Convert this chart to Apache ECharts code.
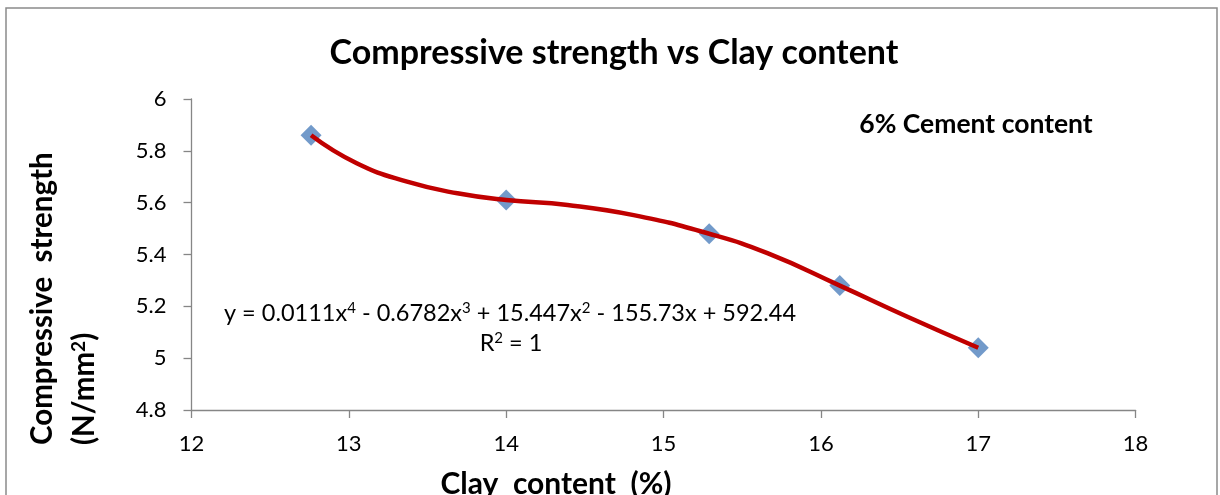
<!DOCTYPE html>
<html>
<head>
<meta charset="utf-8">
<script src="https://cdn.jsdelivr.net/npm/echarts@6/dist/echarts.min.js"></script>
<style>
html,body{margin:0;padding:0;background:#fff;}
#chart{width:1220px;height:495px;}
</style>
</head>
<body>
<div id="chart"></div>
<script>
// Measured data points (clay content %, compressive strength N/mm²)
var clayContent = [12.76, 14.0, 15.29, 16.12, 17.0];
var strength = [5.86, 5.61, 5.48, 5.28, 5.04];
// Trendline points
var trendX = [12.76, 13.05, 13.37, 13.69, 14.0, 14.39, 14.81, 15.29, 15.66, 16.12, 16.55, 17.0];
var trendY = [5.86, 5.752, 5.681, 5.636, 5.61, 5.591, 5.552, 5.48, 5.405, 5.28, 5.16, 5.04];
// Axis ticks
var xTicks = [12, 13, 14, 15, 16, 17, 18];
var yTicks = [4.8, 5, 5.2, 5.4, 5.6, 5.8, 6];

var titleText = 'Compressive strength vs Clay content';
var noteText = '6% Cement content';
var eqText = 'y = 0.0111x{sup|4} - 0.6782x{sup|3} + 15.447x{sup|2} - 155.73x + 592.44';
var r2Text = 'R{sup|2} = 1';
var xName = 'Clay  content  (%)';
var yName1 = 'Compressive  strength';
var yName2 = '(N/mm{sup|2})';

var FONT = "Lato, 'Open Sans', 'DejaVu Sans', sans-serif";

var chart = echarts.init(document.getElementById('chart'), null, {renderer: 'canvas'});
var points = clayContent.map(function (x, i) { return [x, strength[i]]; });
var trend = trendX.map(function (x, i) { return [x, trendY[i]]; });

var axisColor = '#868686';
chart.setOption({
  backgroundColor: '#fff',
  animation: false,
  grid: {left: 191.5, right: 84.4, top: 99, bottom: 85},
  xAxis: {
    type: 'value', min: xTicks[0], max: xTicks[xTicks.length - 1], interval: 1,
    splitLine: {show: false},
    axisLine: {lineStyle: {color: axisColor, width: 1.3}},
    axisTick: {show: true, length: 8, lineStyle: {color: axisColor, width: 1.3}},
    axisLabel: {color: '#000', fontSize: 22, fontFamily: FONT, margin: 23}
  },
  yAxis: {
    type: 'value', min: yTicks[0], max: yTicks[yTicks.length - 1], interval: 0.2,
    splitLine: {show: false},
    axisLine: {show: true, lineStyle: {color: axisColor, width: 1.3}},
    axisTick: {show: true, length: 8, lineStyle: {color: axisColor, width: 1.3}},
    axisLabel: {color: '#000', fontSize: 22, fontFamily: FONT, margin: 25,
      formatter: function (v) { return String(+(+v).toFixed(1)); }}
  },
  series: [
    {
      type: 'scatter', data: points, symbol: 'diamond', symbolSize: [21, 21],
      itemStyle: {color: '#4F81BD'}, z: 2
    },
    {
      type: 'line', data: trend, smooth: 0.5, showSymbol: false, symbol: 'none',
      lineStyle: {color: '#C00000', width: 4.5}, z: 3
    }
  ],
  graphic: [
    {type: 'rect', shape: {x: 6, y: 8, width: 1211, height: 520},
      style: {fill: 'none', stroke: '#8a8a8a', lineWidth: 1.5}, silent: true},
    {type: 'text', x: 614, y: 53, style: {text: titleText, fontSize: 34, fontWeight: 'bold', fontFamily: FONT, fill: '#000', textAlign: 'center', textVerticalAlign: 'middle'}},
    {type: 'text', x: 976, y: 124, style: {text: noteText, fontSize: 26.5, fontWeight: 'bold', fontFamily: FONT, fill: '#000', textAlign: 'center', textVerticalAlign: 'middle'}},
    {type: 'text', x: 510, y: 313, style: {text: eqText, fontSize: 23.5, fontFamily: FONT, fill: '#000', textAlign: 'center', textVerticalAlign: 'middle',
      rich: {sup: {fontSize: 15, fontFamily: FONT, verticalAlign: 'top', lineHeight: 18}}}},
    {type: 'text', x: 511, y: 343, style: {text: r2Text, fontSize: 23.5, fontFamily: FONT, fill: '#000', textAlign: 'center', textVerticalAlign: 'middle',
      rich: {sup: {fontSize: 15, fontFamily: FONT, verticalAlign: 'top', lineHeight: 18}}}},
    {type: 'text', x: 556, y: 484, style: {text: xName, fontSize: 30, fontWeight: 'bold', fontFamily: FONT, fill: '#000', textAlign: 'center', textVerticalAlign: 'middle'}},
    {type: 'text', x: 42, y: 445, rotation: Math.PI / 2, style: {text: yName1, fontSize: 29.5, fontWeight: 'bold', fontFamily: FONT, fill: '#000', textAlign: 'left', textVerticalAlign: 'middle'}},
    {type: 'text', x: 84, y: 445, rotation: Math.PI / 2, style: {text: yName2, fontSize: 29.5, fontWeight: 'bold', fontFamily: FONT, fill: '#000', textAlign: 'left', textVerticalAlign: 'middle',
      rich: {sup: {fontSize: 19, fontWeight: 'bold', fontFamily: FONT, verticalAlign: 'top', lineHeight: 22}}}}
  ]
});
</script>
</body>
</html>
